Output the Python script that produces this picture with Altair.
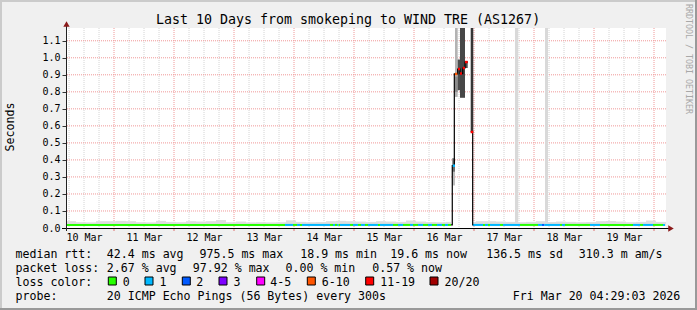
import json
import altair as alt
import pandas as pd

# ---------------- data ----------------
T_START, T_END = 0.2, 10.2          # days since 10 Mar 00:00
Y_MAX = 1.175                       # seconds at top of plot

day_labels = ["10 Mar", "11 Mar", "12 Mar", "13 Mar", "14 Mar",
              "15 Mar", "16 Mar", "17 Mar", "18 Mar", "19 Mar"]
label_days = [0.5, 1.5, 2.5, 3.5, 4.5, 5.5, 6.5, 7.5, 8.5, 9.5]
midnights = [1, 2, 3, 4, 5, 6, 7, 8, 9, 10]
y_ticks = [0.0, 0.1, 0.2, 0.3, 0.4, 0.5, 0.6, 0.7, 0.8, 0.9, 1.0, 1.1]

loss_labels = ["0", "1", "2", "3", "4-5", "6-10", "11-19", "20/20"]
loss_colors = ["#26ff00", "#00b8ff", "#0059ff", "#7e00ff",
               "#ff00ff", "#ff5500", "#ff0000", "#a10000"]

MEDIAN = 0.018
seg_start = [0.200, 3.850, 3.983, 4.050, 4.100, 4.133, 4.600, 4.650, 4.683, 4.717,
             4.742, 4.767, 4.933, 4.983, 5.067, 5.117, 5.183, 5.233, 5.400, 5.433,
             5.650, 5.733, 5.817, 5.933, 5.983, 6.067, 6.150, 6.233, 6.300, 6.383,
             6.467, 6.517, 6.567, 6.617, 6.983, 7.150, 7.183, 7.233, 7.267, 7.433,
             7.483, 7.767, 8.067, 8.133, 8.175, 8.433, 8.467, 8.517, 8.933, 9.100,
             9.650, 9.767, 9.817, 9.983, 10.150]
seg_loss = [0, 1, 0, 1, 0, 1, 0, 1, 0, 1,
            0, 1, 0, 1, 0, 1, 0, 1, 0, 1,
            0, 1, 0, 1, 0, 1, 0, 1, 0, 1,
            0, 1, 0, None, 1, 0, 1, 0, 1, 0,
            1, 0, 1, 2, 1, 0, 1, 0, 1, 0,
            1, 0, 1, 0, 1]
SERIES_END = 10.183

SMOKE_STEP = 1 / 6
SMOKE_BOTTOM = 0.012
smoke_top = [0.040, 0.034, 0.033, 0.040, 0.040, 0.042, 0.040, 0.034, 0.033, 0.042,
             0.036, 0.034, 0.040, 0.038, 0.040, 0.047, 0.034, 0.038, 0.033, 0.034,
             0.033, 0.034, 0.045, 0.036, 0.034, 0.035, 0.040, 0.042, 0.040, 0.038,
             0.036, 0.040, 0.038, 0.036, 0.044, 0.038, 0.035, 0.034, 0.036, 0.036,
             0.036, 0.040, 0.040, 0.038, 0.036, 0.034, 0.036, 0.040, 0.035, 0.038,
             0.036, 0.034, 0.035, 0.040, 0.041, 0.038, 0.034, 0.036, 0.044, 0.036]
outage = (6.617, 6.983)

tall_x1 = [7.683, 8.183]
tall_x2 = [7.738, 8.233]
tall_lo = [0.030, 0.030]
tall_hi = [1.2, 1.2]

spike_x1 = [6.638, 6.638, 6.683, 6.683, 6.728, 6.767, 6.850, 6.945]
spike_x2 = [6.683, 6.683, 6.728, 6.728, 6.767, 6.850, 6.895, 6.988]
spike_lo = [0.25, 0.33, 0.77, 0.80, 0.81, 0.765, 0.94, 0.564]
spike_hi = [0.33, 0.41, 1.2, 0.89, 0.99, 1.2, 0.98, 1.2]
spike_shade = ["#bdbdbd", "#6e6e6e", "#b3b3b3", "#8c8c8c", "#4d4d4d", "#474747", "#4d4d4d", "#363636"]

mark_x1 = [6.645, 6.683, 6.733, 6.767, 6.812, 6.850, 6.945]
mark_x2 = [6.683, 6.722, 6.767, 6.800, 6.850, 6.895, 6.988]
mark_y = [0.366, 0.905, 0.934, 0.907, 0.940, 0.975, 0.564]
mark_loss = [1, 5, 6, 6, 6, 6, 6]

lineA_d = [6.617, 6.638, 6.672, 6.728, 6.767, 6.812, 6.850, 6.895]
lineA_v = [0.018, 0.366, 0.905, 0.934, 0.907, 0.940, 0.975, 0.975]
lineB_d = [6.945, 6.978, 6.988]
lineB_v = [0.564, 0.018, 0.018]

title_text = "Last 10 Days from smokeping to WIND TRE (AS1267)"
legend_rows = [
    [("median rtt:", 16), ("42.4 ms avg", 107.3), ("975.5 ms max", 200), ("18.9 ms min", 300.7),
     ("19.6 ms now", 390.7), ("136.5 ms sd", 486.7), ("310.3 m am/s", 579.3)],
    [("packet loss:", 16), ("2.67 % avg", 107.3), ("97.92 % max", 193.3),
     ("0.00 % min", 286), ("0.57 % now", 372.7)],
    [("loss color:", 16)],
    [("probe:", 16), ("20 ICMP Echo Pings (56 Bytes) every 300s", 107.3),
     ("Fri Mar 20 04:29:03 2026", 513.3)],
]

# ---------------- layout ----------------
W, H = 697, 310
PL, PT = 66, 28
PW, PH = 600, 200
MONO = "DejaVu Sans Mono"
row_base = [258.3, 272.3, 286.3, 300.3]
box_left = [108.3, 145, 182.3, 219, 256.7, 307.3, 365.7, 430]
box_label_x = [123.3, 160, 196.7, 234, 270.7, 322.3, 380.7, 445]

xs = alt.Scale(domain=[T_START, T_END], nice=False, zero=False)
ys = alt.Scale(domain=[0, Y_MAX], nice=False, zero=True)
one = pd.DataFrame({"_": [0]})
layers = []

# grid
minor = [i * 0.25 for i in range(1, 41) if i % 4 and T_START < i * 0.25 < T_END]
layers.append(alt.Chart(pd.DataFrame({"d": minor})).mark_rule(
    color="#d4d4d4", strokeDash=[1, 1], strokeWidth=1).encode(
    x=alt.X("d:Q", scale=xs, axis=None)))
layers.append(alt.Chart(pd.DataFrame({"d": midnights})).mark_rule(
    color="#f09898", strokeDash=[1, 1], strokeWidth=1).encode(
    x=alt.X("d:Q", scale=xs, title=None, axis=alt.Axis(
        values=label_days, labelExpr=json.dumps(day_labels) + "[floor(datum.value)]",
        ticks=False, domain=False, grid=False, labelFont=MONO, labelFontSize=10,
        labelColor="black", labelPadding=4, labelFlush=False, labelOverlap=False))))
layers.append(alt.Chart(pd.DataFrame({"v": y_ticks[1:]})).mark_rule(
    color="#f09898", strokeDash=[1, 1], strokeWidth=1).encode(
    y=alt.Y("v:Q", scale=ys, title=None, axis=alt.Axis(
        values=y_ticks, format=".1f", ticks=True, tickSize=4, tickColor="#333",
        domain=False, grid=False, labelFont=MONO, labelFontSize=10,
        labelColor="black", labelPadding=2))))

# smoke
sm = []
for k, top in enumerate(smoke_top):
    a = T_START + k * SMOKE_STEP
    b = a + SMOKE_STEP
    if b <= outage[0] or a >= outage[1]:
        sm.append((a, b, top))
    else:
        if a < outage[0]:
            sm.append((a, outage[0], top))
        if b > outage[1]:
            sm.append((outage[1], b, top))
smoke_df = pd.DataFrame(sm, columns=["a", "b", "top"])
smoke_df["bot"] = SMOKE_BOTTOM
layers.append(alt.Chart(smoke_df).mark_rect(color="#dddddd").encode(
    x=alt.X("a:Q", scale=xs, axis=None), x2="b:Q",
    y=alt.Y("bot:Q", scale=ys, axis=None), y2="top:Q"))

# tall light bars
layers.append(alt.Chart(pd.DataFrame({"a": tall_x1, "b": tall_x2, "lo": tall_lo, "hi": tall_hi}))
              .mark_rect(color="#d9d9d9", clip=True).encode(
    x=alt.X("a:Q", scale=xs, axis=None), x2="b:Q",
    y=alt.Y("lo:Q", scale=ys, axis=None), y2="hi:Q"))

# spike smoke
layers.append(alt.Chart(pd.DataFrame({"a": spike_x1, "b": spike_x2, "lo": spike_lo,
                                      "hi": spike_hi, "c": spike_shade}))
              .mark_rect(clip=True).encode(
    x=alt.X("a:Q", scale=xs, axis=None), x2="b:Q",
    y=alt.Y("lo:Q", scale=ys, axis=None), y2="hi:Q",
    color=alt.Color("c:N", scale=None)))

# median line coloured by loss
segs = []
ends = seg_start[1:] + [SERIES_END]
for s, e, l in zip(seg_start, ends, seg_loss):
    if l is not None:
        segs.append((s, e, MEDIAN, loss_colors[l]))
seg_df = pd.DataFrame(segs, columns=["a", "b", "v", "c"])
layers.append(alt.Chart(seg_df).mark_rule(strokeWidth=2, strokeCap="butt").encode(
    x=alt.X("a:Q", scale=xs, axis=None), x2="b:Q",
    y=alt.Y("v:Q", scale=ys, axis=None), color=alt.Color("c:N", scale=None)))

# black median connector during the spike
ld = pd.DataFrame({"d": lineA_d + lineB_d, "v": lineA_v + lineB_v,
                   "g": ["A"] * len(lineA_d) + ["B"] * len(lineB_d)})
layers.append(alt.Chart(ld).mark_line(interpolate="step-after", color="black",
                                      strokeWidth=1.2, clip=True).encode(
    x=alt.X("d:Q", scale=xs, axis=None), y=alt.Y("v:Q", scale=ys, axis=None),
    detail="g:N"))

# loss coloured median markers in the spike
mk = pd.DataFrame({"a": mark_x1, "b": mark_x2, "v": mark_y,
                   "c": [loss_colors[i] for i in mark_loss]})
layers.append(alt.Chart(mk).mark_rule(strokeWidth=2.5, strokeCap="butt").encode(
    x=alt.X("a:Q", scale=xs, axis=None), x2="b:Q",
    y=alt.Y("v:Q", scale=ys, axis=None), color=alt.Color("c:N", scale=None)))

# small red ticks at midnight under the x axis
layers.append(alt.Chart(pd.DataFrame({"d": midnights})).mark_rule(color="#e07070").encode(
    x=alt.X("d:Q", scale=xs, axis=None), y=alt.value(PH), y2=alt.value(PH + 3)))

# axis lines and arrows
layers.append(alt.Chart(one).mark_rule(color="black", strokeWidth=1).encode(
    x=alt.value(62 - PL), x2=alt.value(669 - PL), y=alt.value(PH + 0.5)))
layers.append(alt.Chart(one).mark_rule(color="#222", strokeWidth=1).encode(
    x=alt.value(0.5), y=alt.value(231 - PT), y2=alt.value(23 - PT)))
layers.append(alt.Chart(one).mark_point(shape="triangle-right", filled=True, size=40,
                                        color="#8b1a1a", opacity=1).encode(
    x=alt.value(671 - PL), y=alt.value(PH + 0.5)))
layers.append(alt.Chart(one).mark_point(shape="triangle-up", filled=True, size=40,
                                        color="#8b1a1a", opacity=1).encode(
    x=alt.value(0.5), y=alt.value(24 - PT)))


def txt(s, px, py, size=11.6, align="left", baseline="alphabetic", angle=0, color="black"):
    kw = dict(text=s, font=MONO, fontSize=size, align=align, baseline=baseline, color=color)
    if angle:
        kw["angle"] = angle
    return alt.Chart(one).mark_text(**kw).encode(x=alt.value(px - PL), y=alt.value(py - PT))


layers.append(txt(title_text, 348, 24, size=13.3, align="center"))
layers.append(txt("Seconds", 11, 127, size=11.6, align="center", baseline="middle", angle=270))
layers.append(txt("RRDTOOL / TOBI OETIKER", 688, 59, size=8.3, align="center",
                  baseline="middle", angle=90, color="#a8a8a8"))
for row, base in zip(legend_rows, row_base):
    for s, px in row:
        layers.append(txt(s, px - 0.5, base))
for lab, bx, lx in zip(loss_labels, box_left, box_label_x):
    layers.append(alt.Chart(one).mark_rect(stroke="black", strokeWidth=1).encode(
        x=alt.value(bx - PL), x2=alt.value(bx + 8 - PL),
        y=alt.value(277 - PT), y2=alt.value(285 - PT),
        fill=alt.value(loss_colors[loss_labels.index(lab)])))
    layers.append(txt(lab, lx - 0.5, row_base[2]))

# outer 3D frame
frame = [(0, 697, 0, 2, "#cbcbcb"), (0, 2, 0, 310, "#cbcbcb"),
         (0, 697, 308, 310, "#999999"), (695, 697, 0, 310, "#999999")]
for x1, x2, y1, y2, c in frame:
    layers.append(alt.Chart(one).mark_rect(color=c).encode(
        x=alt.value(x1 - PL), x2=alt.value(x2 - PL),
        y=alt.value(y1 - PT), y2=alt.value(y2 - PT)))

chart = alt.layer(*layers).resolve_axis(x="independent", y="independent").properties(
    width=PW, height=PH,
    padding={"left": PL, "top": PT, "right": W - PL - PW, "bottom": H - PT - PH},
    autosize=alt.AutoSizeParams(type="none"),
    background="#f0f0f0",
).configure_view(fill="white", strokeWidth=0)

chart.save("out.html", embed_options={"renderer": "svg", "actions": False})
